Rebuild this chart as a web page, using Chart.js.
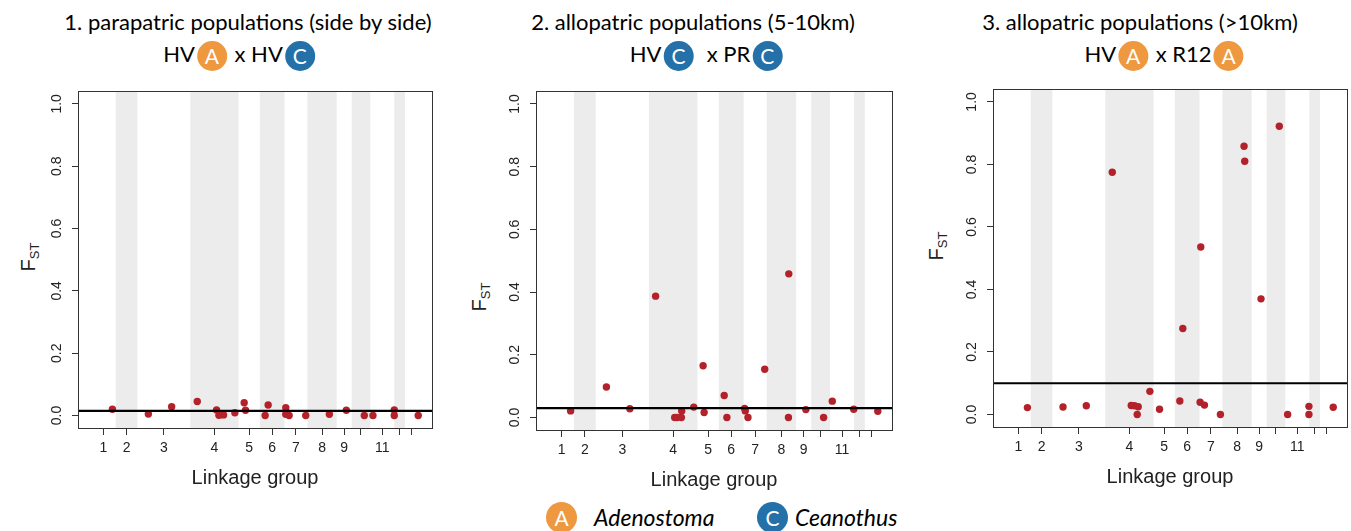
<!DOCTYPE html>
<html>
<head>
<meta charset="utf-8">
<script src="https://cdn.jsdelivr.net/npm/chart.js@4.4.1/dist/chart.umd.min.js"></script>
<style>
  body{margin:0;background:#fff;width:1351px;height:531px;position:relative;overflow:hidden;font-family:"Lato","Open Sans",sans-serif;}
  canvas{position:absolute;}
  .t1,.t2{position:absolute;white-space:nowrap;color:#000;transform:translateX(-50%);font-size:22px;line-height:26px;}
  .badge{display:inline-block;width:30px;height:30px;border-radius:50%;color:#fff;text-align:center;line-height:30px;font-size:21px;vertical-align:middle;margin:0 2px;}
  .bA{background:#EE983F;}
  .bC{background:#2371A8;}
  .fst{position:absolute;transform:translate(-50%,-50%) rotate(-90deg);font-family:"Liberation Sans",Arial,sans-serif;font-size:20px;color:#222;white-space:nowrap;}
  .fst sub{font-size:13px;vertical-align:-4px;}
  .lg{position:absolute;top:502px;white-space:nowrap;}
  .lg i{font-size:23px;line-height:30px;}
</style>
</head>
<body>

<div class="t1" style="left:248px;top:9px;">1. parapatric populations (side by side)</div>
<div class="t2" style="left:240px;top:41px;">HV<span class="badge bA">A</span> x HV<span class="badge bC">C</span></div>
<div class="t1" style="left:693px;top:9px;">2. allopatric populations (5-10km)</div>
<div class="t2" style="left:707px;top:41px;">HV<span class="badge bC">C</span>&nbsp; x PR<span class="badge bC">C</span></div>
<div class="t1" style="left:1140px;top:9px;">3. allopatric populations (&gt;10km)</div>
<div class="t2" style="left:1165px;top:41px;">HV<span class="badge bA">A</span> x R12<span class="badge bA">A</span></div>

<div class="fst" style="left:29px;top:257px;">F<sub>ST</sub></div>
<div class="fst" style="left:480px;top:297px;">F<sub>ST</sub></div>
<div class="fst" style="left:937px;top:246px;">F<sub>ST</sub></div>

<canvas id="c1" width="398" height="412" style="left:38px;top:78px;"></canvas>
<canvas id="c2" width="400" height="414" style="left:496px;top:78px;"></canvas>
<canvas id="c3" width="398" height="413" style="left:953px;top:76px;"></canvas>

<div class="lg" style="left:544px;"><span class="badge bA" style="width:31px;height:31px;line-height:31px;">A</span></div>
<div class="lg" style="left:594px;"><i>Adenostoma</i></div>
<div class="lg" style="left:755px;"><span class="badge bC" style="width:31px;height:31px;line-height:31px;">C</span></div>
<div class="lg" style="left:795px;"><i>Ceanothus</i></div>

<script>
// linkage group lengths (cumulative map units) and the labels R managed to print
const groupLengths = [74,65,159,145,64,74,69,88,45,56,72,32,42];
const groupLabels = ['1','2','3','4','5','6','7','8','9','','11','',''];
const yTicks = [0,0.2,0.4,0.6,0.8,1.0];

// panel 1: parapatric HV(A) x HV(C)
const p1X = [64,172,242,319,377,384,392,398,432,460,464,523,532,585,585,595,645,716,767,821,847,911,911,983];
const p1Y = [0.020,0.005,0.028,0.045,0.018,0.001,0.003,0.002,0.009,0.041,0.017,0.000,0.034,0.025,0.004,0.000,0.000,0.004,0.017,0.000,0.000,0.018,0.000,0.000];
// panel 2: allopatric 5-10km HV(C) x PR(C)
const p2X = [64,171,241,318,375,382,395,396,432,460,463,523,531,584,586,594,644,716,715,767,820,846,910,982];
const p2Y = [0.021,0.097,0.028,0.387,0.000,0.000,0.000,0.021,0.033,0.165,0.016,0.070,0.000,0.029,0.021,0.000,0.154,0.458,0.000,0.025,0.000,0.052,0.026,0.020];
// panel 3: allopatric >10km HV(A) x R12(A)
const p3X = [64,171,241,319,376,386,397,394,432,461,522,531,583,585,596,644,715,717,766,821,846,910,910,983];
const p3Y = [0.022,0.024,0.028,0.775,0.029,0.028,0.025,0.000,0.074,0.017,0.043,0.275,0.039,0.536,0.030,0.000,0.858,0.810,0.370,0.922,0.000,0.026,0.000,0.023];
// genome-wide mean lines
const thresholds = [0.015,0.030,0.100];

/* group boundaries + midpoints */
let starts=[],mids=[],acc=0;
groupLengths.forEach(len=>{starts.push(acc);mids.push(acc+len/2);acc+=len;});
const total=acc;
const xMin=-total*0.04, xMax=total*1.04;

const bandPlugin={
  id:'bands',
  beforeDatasetsDraw(chart){
    const {ctx,chartArea:a,scales:{x}}=chart;
    ctx.save();
    ctx.fillStyle='#ececec';
    for(let i=1;i<groupLengths.length;i+=2){
      const l=x.getPixelForValue(starts[i]);
      const r=x.getPixelForValue(starts[i]+groupLengths[i]);
      ctx.fillRect(l,a.top,r-l,a.bottom-a.top);
    }
    ctx.restore();
  },
  afterDatasetsDraw(chart){
    const {ctx,chartArea:a}=chart;
    ctx.save();
    ctx.strokeStyle='#333';
    ctx.lineWidth=1;
    ctx.strokeRect(Math.round(a.left)+0.5,Math.round(a.top)+0.5,Math.round(a.right-a.left),Math.round(a.bottom-a.top));
    ctx.restore();
  }
};

function makePanel(id,xs,ys,thr,rightPad){
  const pts=xs.map((v,i)=>({x:v,y:ys[i]}));
  new Chart(document.getElementById(id),{
    type:'scatter',
    data:{datasets:[
      {data:pts,backgroundColor:'#B3222A',pointRadius:3.7,borderWidth:0,order:1},
      {type:'line',data:[{x:xMin,y:thr},{x:xMax,y:thr}],borderColor:'#000',borderWidth:2.2,pointRadius:0,order:0}
    ]},
    options:{
      responsive:false,animation:false,devicePixelRatio:1,
      layout:{padding:{top:5,right:rightPad,left:0,bottom:0}},
      plugins:{legend:{display:false},tooltip:{enabled:false}},
      scales:{
        x:{
          type:'linear',min:xMin,max:xMax,
          afterBuildTicks:s=>{s.ticks=mids.map(v=>({value:v}));},
          afterFit:s=>{s.height=62;},
          ticks:{callback:(v,i)=>groupLabels[i],autoSkip:false,maxRotation:0,padding:5,
            color:'#222',font:{family:'Liberation Sans',size:14}},
          grid:{drawOnChartArea:false,drawTicks:true,tickLength:7,color:'#333'},
          border:{color:'#333'},
          title:{display:true,text:'Linkage group',color:'#222',padding:0,
            font:{family:'Liberation Sans',size:20}}
        },
        y:{
          min:-0.04,max:1.04,
          afterBuildTicks:s=>{s.ticks=yTicks.map(v=>({value:v}));},
          afterFit:s=>{s.width=40;},
          ticks:{callback:v=>v.toFixed(1),minRotation:90,maxRotation:90,crossAlign:'center',padding:5,
            color:'#222',font:{family:'Liberation Sans',size:14}},
          grid:{drawOnChartArea:false,drawTicks:true,tickLength:6,color:'#333'},
          border:{color:'#333'}
        }
      }
    },
    plugins:[bandPlugin]
  });
}

makePanel('c1',p1X,p1Y,thresholds[0],4);
makePanel('c2',p2X,p2Y,thresholds[1],4);
makePanel('c3',p3X,p3Y,thresholds[2],3);
</script>
</body>
</html>
